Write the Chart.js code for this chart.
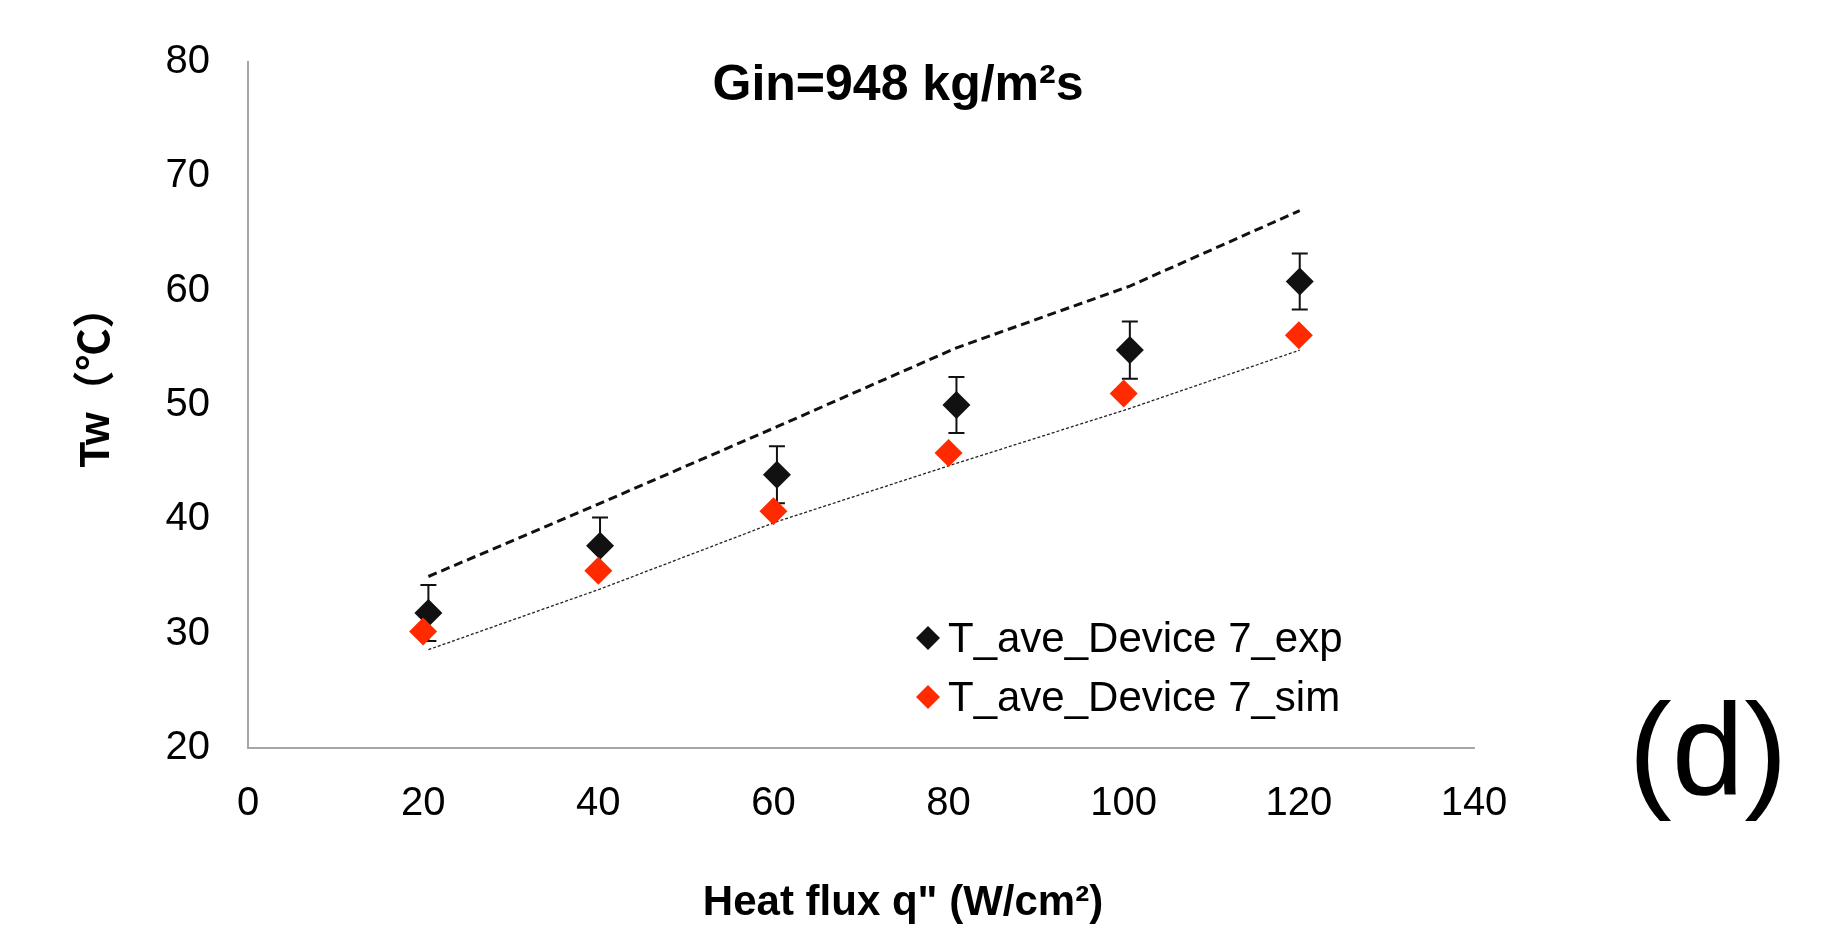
<!DOCTYPE html>
<html>
<head>
<meta charset="utf-8">
<script src="https://cdn.jsdelivr.net/npm/chart.js@4"></script>
<style>
  html, body { margin: 0; padding: 0; background: #fff; }
  #wrap { width: 1832px; height: 934px; }
</style>
</head>
<body>
<div id="wrap"><canvas id="myChart" width="1832" height="934"></canvas></div>
<script>
// data
const qSim = [20, 40, 60, 80, 100, 120];
const qExp = [20.6, 40.2, 60.4, 80.9, 100.7, 120.1];
const twExp = [31.8, 37.7, 43.9, 50.0, 54.8, 60.8];
const expErr = [2.45, 2.45, 2.5, 2.45, 2.5, 2.45];
const twSim = [30.2, 35.5, 40.7, 45.8, 51.0, 56.1];
const upperBound = [35.0, 41.4, 48.1, 55.0, 60.4, 67.0];
const lowerBound = [28.6, 33.9, 39.8, 44.9, 49.7, 54.8];
const xTicks = [0, 20, 40, 60, 80, 100, 120, 140];
const yTicks = [20, 30, 40, 50, 60, 70, 80];

const FONT = "'Liberation Sans', Arial, Helvetica, sans-serif";
const RED = '#ff2a00';
const BLACK = '#111111';

const pts = (xs, ys) => xs.map((x, i) => ({ x: x, y: ys[i] }));

// error bars for the experimental points
const errorBars = {
  id: 'errorBars',
  beforeDatasetsDraw(chart) {
    const { ctx, scales: { x, y } } = chart;
    ctx.save();
    ctx.strokeStyle = BLACK;
    ctx.lineWidth = 2;
    qExp.forEach((q, i) => {
      const px = x.getPixelForValue(q);
      const top = y.getPixelForValue(twExp[i] + expErr[i]);
      const bot = y.getPixelForValue(twExp[i] - expErr[i]);
      ctx.beginPath();
      ctx.moveTo(px, top); ctx.lineTo(px, bot);
      ctx.moveTo(px - 8, top); ctx.lineTo(px + 8, top);
      ctx.moveTo(px - 8, bot); ctx.lineTo(px + 8, bot);
      ctx.stroke();
    });
    ctx.restore();
  }
};

// title, legend, axis titles and panel tag
const annotations = {
  id: 'annotations',
  afterDraw(chart) {
    const ctx = chart.ctx;
    ctx.save();
    ctx.fillStyle = '#000';
    ctx.textBaseline = 'middle';

    ctx.textAlign = 'center';
    ctx.font = 'bold 50px ' + FONT;
    ctx.fillText('Gin=948 kg/m²s', 898, 86);

    ctx.font = 'bold 42px ' + FONT;
    ctx.fillText('Heat flux q" (W/cm²)', 903, 903);

    ctx.font = '130px ' + FONT;
    ctx.fillText('(d)', 1708, 758);

    // y axis title
    ctx.save();
    ctx.translate(97, 377);
    ctx.rotate(-Math.PI / 2);
    ctx.font = "bold 42px " + FONT + ", 'Noto Sans CJK SC'";
    ctx.fillText('Tw（℃）', 0, 0);
    ctx.restore();

    // legend
    const items = [
      { label: 'T_ave_Device 7_exp', color: BLACK, y: 638 },
      { label: 'T_ave_Device 7_sim', color: RED, y: 697 }
    ];
    ctx.textAlign = 'left';
    ctx.font = '42px ' + FONT;
    items.forEach(it => {
      const cx = 928, r = 12;
      ctx.fillStyle = it.color;
      ctx.beginPath();
      ctx.moveTo(cx - r, it.y); ctx.lineTo(cx, it.y - r);
      ctx.lineTo(cx + r, it.y); ctx.lineTo(cx, it.y + r);
      ctx.closePath();
      ctx.fill();
      ctx.fillStyle = '#000';
      ctx.fillText(it.label, 948, it.y + 2);
    });
    ctx.restore();
  }
};

const ctx = document.getElementById('myChart').getContext('2d');
const myChart = new Chart(ctx, {
  type: 'scatter',
  data: {
    datasets: [
      {
        label: 'T_ave_Device 7_sim',
        data: pts(qSim, twSim),
        pointStyle: 'rectRot',
        pointRadius: 14,
        backgroundColor: RED,
        borderWidth: 0,
        showLine: false
      },
      {
        label: 'T_ave_Device 7_exp',
        data: pts(qExp, twExp),
        pointStyle: 'rectRot',
        pointRadius: 14,
        backgroundColor: BLACK,
        borderWidth: 0,
        showLine: false
      },
      {
        label: 'upper',
        data: pts(qExp, upperBound),
        showLine: true,
        pointRadius: 0,
        borderColor: BLACK,
        borderWidth: 3,
        borderDash: [9, 5],
        tension: 0
      },
      {
        label: 'lower',
        data: pts(qExp, lowerBound),
        showLine: true,
        pointRadius: 0,
        borderColor: '#222222',
        borderWidth: 1.3,
        borderDash: [3, 2],
        tension: 0
      }
    ]
  },
  options: {
    responsive: false,
    animation: false,
    layout: { padding: { top: 55, right: 358, left: 0, bottom: 0 } },
    plugins: {
      legend: { display: false },
      tooltip: { enabled: false }
    },
    scales: {
      x: {
        type: 'linear',
        min: 0, max: 140,
        afterBuildTicks: s => { s.ticks = xTicks.map(v => ({ value: v })); },
        afterFit: s => { s.height = 186; },
        grid: { display: false, drawTicks: false },
        border: { display: true, color: '#a6a6a6', width: 2 },
        ticks: { color: '#000', padding: 32, maxRotation: 0, font: { family: FONT, size: 40 } }
      },
      y: {
        type: 'linear',
        min: 20, max: 80,
        afterBuildTicks: s => { s.ticks = yTicks.map(v => ({ value: v })); },
        afterFit: s => { s.width = 248; },
        grid: { display: false, drawTicks: false },
        border: { display: true, color: '#a6a6a6', width: 2 },
        ticks: { color: '#000', padding: 38, font: { family: FONT, size: 40 } }
      }
    }
  },
  plugins: [errorBars, annotations]
});
</script>
</body>
</html>
